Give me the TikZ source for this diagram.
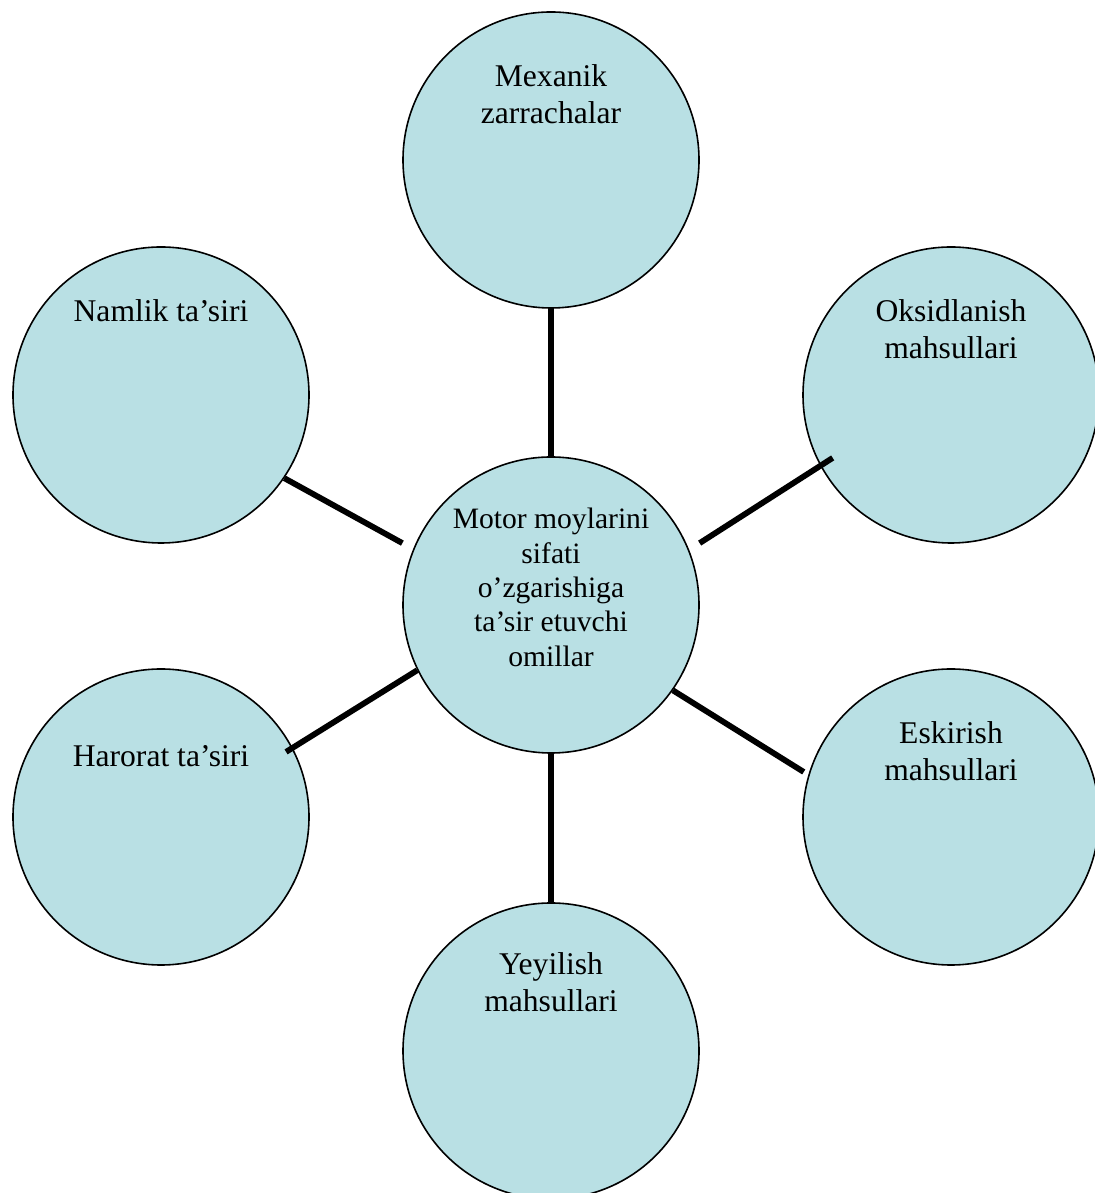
\documentclass[tikz,border=0pt]{standalone}
\usepackage{fontspec}
\setmainfont{Liberation Serif}
\usetikzlibrary{calc}

\definecolor{bubble}{RGB}{185,224,228}

\begin{document}
\begin{tikzpicture}[x=0.5pt, y=0.5pt,
  factor/.style={draw, fill=bubble, circle, line width=0.8pt, minimum size=148pt, inner sep=0pt},
  caption/.style={anchor=north, align=center, inner sep=0pt, font=\fontsize{15.8}{18.6}\selectfont},
  link/.style={line width=2.9pt}]
  \clip (0,0) rectangle (1095,1193);

  % circles
  \node [factor] (hub)   at (551,588)  {};
  \node [factor] (mech)  at (551,1033) {};
  \node [factor] (moist) at (161,798)  {};
  \node [factor] (oxid)  at (951,798)  {};
  \node [factor] (heat)  at (161,376)  {};
  \node [factor] (aging) at (951,376)  {};
  \node [factor] (wear)  at (551,142)  {};

  % texts
  \node [caption, font=\fontsize{14.8}{17.2}\selectfont] (hub-text) at ([yshift=-25.8pt]hub.north)
    {Motor moylarini\\ sifati\\ o’zgarishiga\\ ta’sir etuvchi\\ omillar};
  \node [caption] (mech-text)  at ([yshift=-26.6pt]mech.north)  {Mexanik\\ zarrachalar};
  \node [caption] (moist-text) at ([yshift=-26.6pt]moist.north) {Namlik ta’siri};
  \node [caption] (oxid-text)  at ([yshift=-26.6pt]oxid.north)  {Oksidlanish\\ mahsullari};
  \node [caption] (heat-text)  at ([yshift=-38.2pt]heat.north)  {Harorat ta’siri};
  \node [caption] (aging-text) at ([yshift=-26.6pt]aging.north) {Eskirish\\ mahsullari};
  \node [caption] (wear-text)  at ([yshift=-25pt]wear.north)    {Yeyilish\\ mahsullari};

  % connectors
  \draw [link] (mech.south) -- (hub.north);
  \draw [link] (hub.south) -- (wear.north);
  \draw [link] (moist.-34) -- ($(hub)+(157.4:161)$);
  \draw [link] ($(oxid)+(208:134)$) -- ($(hub)+(22.6:161)$);
  \draw [link] ($(heat)+(27.5:141)$) -- (hub.206.6);
  \draw [link] (hub.-35.3) -- ($(aging)+(163:154)$);
\end{tikzpicture}
\end{document}
